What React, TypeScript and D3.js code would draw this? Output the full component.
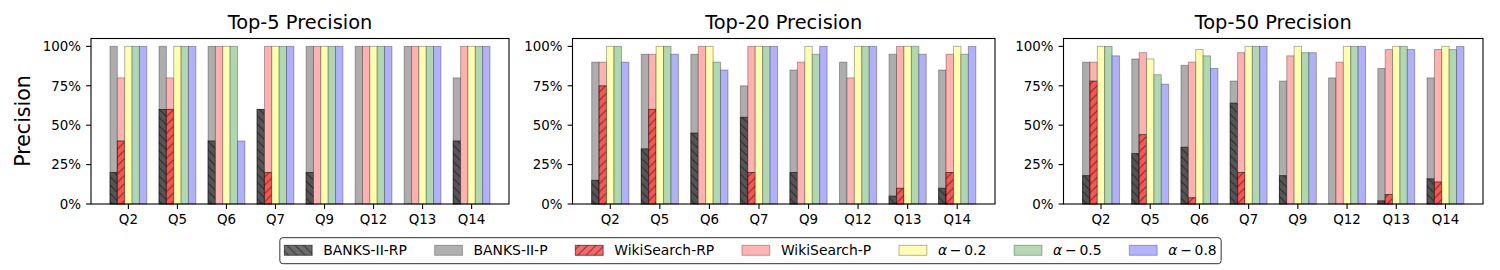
import React from "react";
import * as d3 from "d3";

// ---- data (percent values) ----
const categories = ["Q2", "Q5", "Q6", "Q7", "Q9", "Q12", "Q13", "Q14"];
const panelTitles = ["Top-5 Precision", "Top-20 Precision", "Top-50 Precision"];
const yTicks = [0, 0.25, 0.5, 0.75, 1];

// Top-5
const banksRP5 = [20, 60, 40, 60, 20, 0, 0, 40];
const banksP5 = [100, 100, 100, 60, 100, 100, 100, 80];
const wikiRP5 = [40, 60, 0, 20, 0, 0, 0, 0];
const wikiP5 = [80, 80, 100, 100, 100, 100, 100, 100];
const alpha02_5 = [100, 100, 100, 100, 100, 100, 100, 100];
const alpha05_5 = [100, 100, 100, 100, 100, 100, 100, 100];
const alpha08_5 = [100, 100, 40, 100, 100, 100, 100, 100];

// Top-20
const banksRP20 = [15, 35, 45, 55, 20, 0, 5, 10];
const banksP20 = [90, 95, 95, 75, 85, 90, 95, 85];
const wikiRP20 = [75, 60, 0, 20, 0, 0, 10, 20];
const wikiP20 = [90, 95, 100, 100, 90, 80, 100, 95];
const alpha02_20 = [100, 100, 100, 100, 100, 100, 100, 100];
const alpha05_20 = [100, 100, 90, 100, 95, 100, 100, 95];
const alpha08_20 = [90, 95, 85, 100, 100, 100, 95, 100];

// Top-50
const banksRP50 = [18, 32, 36, 64, 18, 0, 2, 16];
const banksP50 = [90, 92, 88, 78, 78, 80, 86, 80];
const wikiRP50 = [78, 44, 4, 20, 0, 0, 6, 14];
const wikiP50 = [90, 96, 90, 96, 94, 90, 98, 98];
const alpha02_50 = [100, 92, 98, 100, 100, 100, 100, 100];
const alpha05_50 = [100, 82, 94, 100, 96, 100, 100, 98];
const alpha08_50 = [94, 76, 86, 100, 96, 100, 98, 100];

const panelData = [
  [banksP5, banksRP5, wikiP5, wikiRP5, alpha02_5, alpha05_5, alpha08_5],
  [banksP20, banksRP20, wikiP20, wikiRP20, alpha02_20, alpha05_20, alpha08_20],
  [banksP50, banksRP50, wikiP50, wikiRP50, alpha02_50, alpha05_50, alpha08_50],
];

// series styles, same order as panelData rows (draw order: P under RP)
const seriesStyle = [
  { name: "BANKS-II-P", slot: 0, fill: "#adadad", legendFill: "#b0b0b0", stroke: "rgba(0,0,0,0.3)", hatch: null },
  { name: "BANKS-II-RP", slot: 0, fill: "#555555", legendFill: "#6c6c6c", stroke: "rgba(0,0,0,0.55)", hatch: "back" },
  { name: "WikiSearch-P", slot: 1, fill: "#ffb0b0", legendFill: "#ffb3b3", stroke: "rgba(0,0,0,0.3)", hatch: null },
  { name: "WikiSearch-RP", slot: 1, fill: "#ff5252", legendFill: "#f86868", stroke: "rgba(0,0,0,0.55)", hatch: "fwd" },
  { name: "α-0.2", slot: 2, fill: "#ffffb0", legendFill: "#ffffb3", stroke: "rgba(0,0,0,0.3)", hatch: null },
  { name: "α-0.5", slot: 3, fill: "#b0d8b0", legendFill: "#b3d9b3", stroke: "rgba(0,0,0,0.3)", hatch: null },
  { name: "α-0.8", slot: 4, fill: "#b0b0ff", legendFill: "#b3b3ff", stroke: "rgba(0,0,0,0.3)", hatch: null },
];

// legend order as in the reference
const legendOrder = [1, 0, 3, 2, 4, 5, 6];

// ---- layout ----
const W = 1500;
const H = 270;
const plotTop = 38.5;
const plotBottom = 204;
const panelBounds = [
  [91, 509],
  [572.5, 995],
  [1063.5, 1483],
];
const FONT = "DejaVu Sans, Verdana, sans-serif";
const barW = 0.15;

const canvas = typeof document !== "undefined" ? document.createElement("canvas") : null;
const ctx = canvas ? canvas.getContext("2d") : null;
function textWidth(s: string, size: number) {
  if (!ctx) return s.length * size * 0.6;
  ctx.font = `${size}px "DejaVu Sans"`;
  return ctx.measureText(s).width;
}

function LegendLabel({ name, x, y }: { name: string; x: number; y: number }) {
  if (name.startsWith("α")) {
    const v = name.split("-")[1];
    return (
      <text x={x} y={y} fontSize={13.9} fontFamily={FONT}>
        <tspan fontStyle="italic">α</tspan>
        {"\u2009\u2212\u2009" + v}
      </text>
    );
  }
  return (
    <text x={x} y={y} fontSize={13.9} fontFamily={FONT}>
      {name}
    </text>
  );
}

function labelText(name: string) {
  return name.startsWith("α") ? "α\u2009\u2212\u2009" + name.split("-")[1] : name;
}

function Panel({ idx }: { idx: number }) {
  const [left, right] = panelBounds[idx];
  const x = d3.scaleLinear().domain([-0.7625, 7.7625]).range([left, right]);
  const y = d3.scaleLinear().domain([0, 1.05]).range([plotBottom, plotTop]);
  const rows = panelData[idx];

  return (
    <g>
      {rows.map((vals, s) => {
        const st = seriesStyle[s];
        return (
          <g key={s}>
            {vals.map((v, i) => {
              if (v <= 0) return null;
              const cx = i + (st.slot - 2) * barW;
              const x0 = x(cx - barW / 2);
              const x1 = x(cx + barW / 2);
              const y0 = y(v / 100);
              return (
                <g key={i}>
                  <rect x={x0} y={y0} width={x1 - x0} height={plotBottom - y0} fill={st.fill} stroke={st.stroke} strokeWidth={1} />
                  {st.hatch && (
                    <rect x={x0} y={y0} width={x1 - x0} height={plotBottom - y0} fill={`url(#hatch-${st.hatch})`} stroke="none" />
                  )}
                </g>
              );
            })}
          </g>
        );
      })}

      {/* frame */}
      <rect x={left} y={plotTop} width={right - left} height={plotBottom - plotTop} fill="none" stroke="#000" strokeWidth={1.1} />

      {/* x axis */}
      {categories.map((c, i) => (
        <g key={c}>
          <line x1={x(i)} x2={x(i)} y1={plotBottom} y2={plotBottom + 4.9} stroke="#000" strokeWidth={1.1} />
          <text x={x(i)} y={224} textAnchor="middle" fontSize={13.4} fontFamily={FONT}>
            {c}
          </text>
        </g>
      ))}

      {/* y axis */}
      {yTicks.map((t) => (
        <g key={t}>
          <line x1={left - 4.9} x2={left} y1={y(t)} y2={y(t)} stroke="#000" strokeWidth={1.1} />
          <text x={left - 10} y={y(t) + 4.8} textAnchor="end" fontSize={13.4} fontFamily={FONT}>
            {d3.format(".0%")(t)}
          </text>
        </g>
      ))}

      <text x={(left + right) / 2} y={29.3} textAnchor="middle" fontSize={19.4} fontFamily={FONT}>
        {panelTitles[idx]}
      </text>

      {idx === 0 && (
        <text transform={`translate(30,121) rotate(-90)`} textAnchor="middle" fontSize={20.5} fontFamily={FONT}>
          Precision
        </text>
      )}
    </g>
  );
}

function Legend() {
  const fs = 13.9;
  const handleLen = 2.0 * fs;
  const textPad = 0.8 * fs;
  const colSpace = 2.0 * fs;
  const widths = legendOrder.map((s) => textWidth(labelText(seriesStyle[s].name), fs));
  const content =
    widths.reduce((a, w) => a + handleLen + textPad + w, 0) + colSpace * (widths.length - 1);
  const pad = 4.5;
  const boxW = content + pad * 2;
  const boxX = 750.5 - boxW / 2;
  let cursor = boxX + pad;
  const items = legendOrder.map((s, k) => {
    const it = { s, hx: cursor, tx: cursor + handleLen + textPad };
    cursor += handleLen + textPad + widths[k] + colSpace;
    return it;
  });

  return (
    <g>
      <rect x={boxX} y={237.7} width={boxW} height={26} rx={3} fill="#fff" stroke="#333" strokeWidth={1} />
      {items.map(({ s, hx, tx }) => {
        const st = seriesStyle[s];
        return (
          <g key={s}>
            <rect x={hx} y={245.3} width={handleLen} height={10} fill={st.legendFill} stroke={st.stroke} strokeWidth={1} />
            {st.hatch && <rect x={hx} y={245.3} width={handleLen} height={10} fill={`url(#hatch-${st.hatch})`} />}
            <LegendLabel name={st.name} x={tx} y={255.3} />
          </g>
        );
      })}
    </g>
  );
}

export default function App() {
  return (
    <svg
      width={W}
      height={H}
      viewBox={`0 0 ${W} ${H}`}
      style={{ position: "absolute", left: 0, top: 0, background: "#fff" }}
    >
      <defs>
        <pattern id="hatch-fwd" patternUnits="userSpaceOnUse" width={8.33} height={8.33}>
          <path d="M0,8.33 L8.33,0 M-1,1 L1,-1 M7.33,9.33 L9.33,7.33" stroke="rgba(0,0,0,0.5)" strokeWidth={1} />
        </pattern>
        <pattern id="hatch-back" patternUnits="userSpaceOnUse" width={8.33} height={8.33}>
          <path d="M0,0 L8.33,8.33 M-1,7.33 L1,9.33 M7.33,-1 L9.33,1" stroke="rgba(0,0,0,0.5)" strokeWidth={1} />
        </pattern>
      </defs>
      <rect x={0} y={0} width={W} height={H} fill="#fff" />
      {panelTitles.map((_, i) => (
        <Panel key={i} idx={i} />
      ))}
      <Legend />
    </svg>
  );
}
